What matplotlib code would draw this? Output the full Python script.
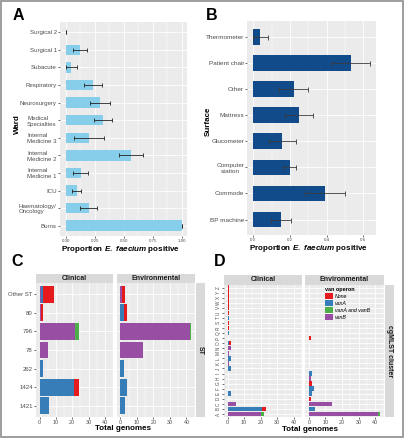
import matplotlib
matplotlib.use('Agg')
import matplotlib.pyplot as plt
import numpy as np
from matplotlib.patches import Rectangle, Patch
from matplotlib.ticker import MultipleLocator, NullLocator, FormatStrFormatter

plt.rcParams['font.family'] = ['Liberation Sans', 'DejaVu Sans']
plt.rcParams['mathtext.fontset'] = 'custom'
plt.rcParams['mathtext.it'] = 'Liberation Sans:italic:bold'
plt.rcParams['mathtext.rm'] = 'Liberation Sans:bold'

# ---------------- data ----------------
wards = ["Burns", "Haematology/\nOncology", "ICU", "Internal\nMedicine 1", "Internal\nMedicine 2",
         "Internal\nMedicine 3", "Medical\nSpecialties", "Neurosurgery", "Respiratory",
         "Subacute", "Surgical 1", "Surgical 2"]
ward_prop = [1.00, 0.20, 0.10, 0.13, 0.565, 0.20, 0.32, 0.30, 0.235, 0.047, 0.12, 0.0]
ward_lo = [1.00, 0.126, 0.057, 0.066, 0.46, 0.07, 0.245, 0.21, 0.16, 0.0, 0.06, 0.0]
ward_hi = [1.00, 0.267, 0.135, 0.195, 0.67, 0.33, 0.40, 0.385, 0.31, 0.095, 0.18, 0.0]

surfaces = ["BP machine", "Commode", "Computer\nstation", "Glucometer", "Mattress",
            "Other", "Patient chair", "Thermometer"]
surf_prop = [0.151, 0.39, 0.199, 0.158, 0.25, 0.22, 0.534, 0.038]
surf_lo = [0.097, 0.284, 0.164, 0.086, 0.175, 0.138, 0.432, 0.0]
surf_hi = [0.206, 0.499, 0.233, 0.231, 0.328, 0.30, 0.639, 0.078]

van_types = ["None", "vanA", "vanA and vanB", "vanB"]
van_colors = ["#E41A1C", "#377EB8", "#4DAF4A", "#984EA3"]

st_labels = ["1421", "1424", "262", "78", "796", "80", "Other ST"]
st_clin_none = [0, 3, 0, 0, 0, 1, 7]
st_clin_vanA = [6, 21, 2, 0, 0, 0, 1]
st_clin_vanAB = [0, 0, 0, 0, 2, 0, 0]
st_clin_vanB = [0, 0, 0, 5, 22, 1, 1]
st_env_none = [0, 0, 0, 0, 0, 2, 2]
st_env_vanA = [3, 4, 2, 0, 0, 2, 0]
st_env_vanAB = [0, 0, 0, 0, 1, 0, 0]
st_env_vanB = [0, 0, 0, 14, 42, 0, 1]

clusters = list("ABCDEFGHIJKLMNOPQRSTUVWXYZ")
cl_clin_none = [0, 2, 0, 0, 0, 0, 0, 0, 0, 0, 0, 0, 0, 0, 1, 0, 0, 1, 1, 0, 1, 1, 1, 1, 1, 1]
cl_clin_vanA = [0, 21, 0, 0, 2, 0, 0, 0, 0, 2, 0, 2, 0, 0, 1, 0, 1, 0, 0, 1, 0, 0, 0, 0, 0, 0]
cl_clin_vanAB = [2, 0, 0, 0, 0, 0, 0, 0, 0, 0, 0, 0, 0, 0, 0, 0, 0, 0, 0, 0, 0, 0, 0, 0, 0, 0]
cl_clin_vanB = [20, 0, 5, 0, 0, 0, 0, 0, 0, 0, 1, 0, 1, 2, 0, 0, 0, 0, 0, 0, 0, 0, 0, 0, 0, 0]
cl_env_none = [0, 0, 0, 1, 0, 0, 2, 0, 0, 0, 0, 0, 0, 0, 0, 1, 0, 0, 0, 0, 0, 0, 0, 0, 0, 0]
cl_env_vanA = [0, 4, 0, 0, 2, 3, 0, 0, 2, 0, 0, 0, 0, 0, 0, 0, 0, 0, 0, 0, 0, 0, 0, 0, 0, 0]
cl_env_vanAB = [1, 0, 0, 0, 0, 0, 0, 0, 0, 0, 0, 0, 0, 0, 0, 0, 0, 0, 0, 0, 0, 0, 0, 0, 0, 0]
cl_env_vanB = [42, 0, 14, 0, 0, 0, 0, 1, 0, 0, 0, 0, 0, 0, 0, 0, 0, 0, 0, 0, 0, 0, 0, 0, 0, 0]

# ---------------- layout helpers ----------------
W, H = 405, 440
fig = plt.figure(figsize=(W / 100, H / 100), dpi=100)


def box(l, t, r, b):
    return [l / W, 1 - b / H, (r - l) / W, (b - t) / H]


def ftext(x, y, s, **kw):
    fig.text(x / W, 1 - y / H, s, **kw)


def frect(l, t, r, b, **kw):
    fig.add_artist(Rectangle((l / W, 1 - b / H), (r - l) / W, (b - t) / H,
                             transform=fig.transFigure, **kw))


def style(ax, xmajor, xminor):
    ax.set_facecolor('#EBEBEB')
    for s in ax.spines.values():
        s.set_visible(False)
    ax.xaxis.set_major_locator(MultipleLocator(xmajor))
    ax.xaxis.set_minor_locator(MultipleLocator(xminor))
    ax.yaxis.set_minor_locator(NullLocator())
    ax.grid(which='major', color='white', lw=0.6)
    ax.grid(which='minor', axis='x', color='white', lw=0.3)
    ax.set_axisbelow(True)
    ax.tick_params(which='major', length=1.5, width=0.5, color='#333333',
                   labelcolor='#4D4D4D', pad=0.8)
    ax.tick_params(which='minor', length=0)


TITLE_KW = dict(fontsize=5.8, fontweight='bold', color='black', ha='center', va='center')
XLAB = r"Proportion $\mathit{E.\ faecium}$ positive"

# ---------------- Panel A ----------------
axA = fig.add_axes(box(59.9, 21.8, 187.5, 236.2))
style(axA, 0.25, 0.125)
yA = np.arange(len(wards))
pA = np.array(ward_prop)
axA.barh(yA, pA, height=0.6, color='#87CEEB', zorder=2)
axA.errorbar(pA, yA, xerr=[pA - np.array(ward_lo), np.array(ward_hi) - pA], fmt='none',
             ecolor='#222222', elinewidth=0.6, capsize=1.3, capthick=0.6, zorder=3)
axA.set_xlim(-0.05, 1.05)
axA.set_ylim(-0.6, len(wards) - 0.4)
axA.set_yticks(yA)
axA.set_yticklabels(wards, fontsize=4.4, multialignment='left')
axA.xaxis.set_major_formatter(FormatStrFormatter('%.2f'))
axA.tick_params(axis='x', labelsize=3.2, pad=0.5)
ftext(120.5, 249, XLAB, **TITLE_KW)
ftext(17.5, 124, "Ward", rotation=90, **TITLE_KW)
ftext(18.3, 15.2, "A", fontsize=11.5, fontweight='bold', ha='center', va='center')

# ---------------- Panel B ----------------
axB = fig.add_axes(box(247.4, 21.0, 376.3, 235.3))
style(axB, 0.2, 0.1)
yB = np.arange(len(surfaces))
pB = np.array(surf_prop)
axB.barh(yB, pB, height=0.6, color='#114B8A', zorder=2)
axB.errorbar(pB, yB, xerr=[pB - np.array(surf_lo), np.array(surf_hi) - pB], fmt='none',
             ecolor='#3A3A3A', elinewidth=0.6, capsize=1.8, capthick=0.6, zorder=3)
axB.set_xlim(-0.032, 0.671)
axB.set_ylim(-0.6, len(surfaces) - 0.4)
axB.set_yticks(yB)
axB.set_yticklabels(surfaces, fontsize=4.6, multialignment='center')
axB.xaxis.set_major_formatter(FormatStrFormatter('%.1f'))
axB.tick_params(axis='x', labelsize=3.2, pad=0.5)
ftext(308.8, 248.5, XLAB, **TITLE_KW)
ftext(208.3, 121.5, "Surface", rotation=90, **TITLE_KW)
ftext(212, 15.3, "B", fontsize=11.5, fontweight='bold', ha='center', va='center')


# ---------------- stacked helper ----------------
def stacked(ax, cats, series):
    y = np.arange(len(cats))
    left = np.zeros(len(cats))
    # stacking order left->right: vanB, vanA and vanB, vanA, None
    for idx in [3, 2, 1, 0]:
        vals = np.array(series[idx], dtype=float)
        ax.barh(y, vals, left=left, height=0.9, color=van_colors[idx], zorder=2)
        left += vals
    ax.set_xlim(-2.15, 45.15)
    ax.set_ylim(-0.6, len(cats) - 0.4)
    ax.set_yticks(y)


STRIP_KW = dict(fontsize=5, fontweight='bold', color='#1A1A1A', ha='center', va='center')

# ---------------- Panel C ----------------
cC = [(36, 113.3), (116.7, 195)]
tC, bC = 283, 417
axC1 = fig.add_axes(box(cC[0][0], tC, cC[0][1], bC))
axC2 = fig.add_axes(box(cC[1][0], tC, cC[1][1], bC))
for ax in (axC1, axC2):
    style(ax, 10, 5)
    ax.tick_params(axis='x', labelsize=3.9)
stacked(axC1, st_labels, [st_clin_none, st_clin_vanA, st_clin_vanAB, st_clin_vanB])
stacked(axC2, st_labels, [st_env_none, st_env_vanA, st_env_vanAB, st_env_vanB])
axC1.set_yticklabels(st_labels, fontsize=4.3)
axC2.set_yticklabels([])
axC2.tick_params(axis='y', length=0)
for (l, r), name in zip(cC, ["Clinical", "Environmental"]):
    frect(l, 274, r, tC, color='#D9D9D9', lw=0)
    ftext((l + r) / 2, 278.7, name, **STRIP_KW)
frect(195.8, tC, 204.8, bC, color='#D9D9D9', lw=0)
ftext(200.3, (tC + bC) / 2, "ST", rotation=-90, **STRIP_KW)
ftext(122.7, 428.8, "Total genomes", **TITLE_KW)
ftext(17.5, 262, "C", fontsize=11.5, fontweight='bold', ha='center', va='center')

# ---------------- Panel D ----------------
cD = [(224, 302.3), (305.3, 383.7)]
tD, bD = 284.5, 417
axD1 = fig.add_axes(box(cD[0][0], tD, cD[0][1], bD))
axD2 = fig.add_axes(box(cD[1][0], tD, cD[1][1], bD))
for ax in (axD1, axD2):
    style(ax, 10, 5)
    ax.tick_params(axis='x', labelsize=3.9)
stacked(axD1, clusters, [cl_clin_none, cl_clin_vanA, cl_clin_vanAB, cl_clin_vanB])
stacked(axD2, clusters, [cl_env_none, cl_env_vanA, cl_env_vanAB, cl_env_vanB])
axD1.set_yticklabels(clusters, fontsize=3.3, rotation=90, va='center')
axD1.tick_params(axis='y', length=1.5, pad=0.8)
axD2.set_yticklabels([])
axD2.tick_params(axis='y', length=0)
for (l, r), name in zip(cD, ["Clinical", "Environmental"]):
    frect(l, 275, r, tD, color='#D9D9D9', lw=0)
    ftext((l + r) / 2, 279.7, name, **STRIP_KW)
frect(385.3, tD, 393.8, bD, color='#D9D9D9', lw=0)
ftext(389.5, (tD + bD) / 2, "cgMLST cluster", rotation=-90, **STRIP_KW)
ftext(310.5, 429.3, "Total genomes", **TITLE_KW)
ftext(219.5, 261.5, "D", fontsize=11.5, fontweight='bold', ha='center', va='center')

handles = [Patch(facecolor=c, edgecolor='none') for c in van_colors]
leg = fig.legend(handles, van_types, loc='upper left',
                 bbox_to_anchor=(325 / W, 1 - 287 / H), frameon=False,
                 prop={'size': 3.8, 'style': 'italic'},
                 title='van operon', title_fontproperties={'size': 4, 'weight': 'bold'},
                 handlelength=1.5, handleheight=1.5, labelspacing=0.12,
                 handletextpad=0.4, borderpad=0, borderaxespad=0, alignment='left')

# outer frame
fig.add_artist(Rectangle((1 / W, 3 / H), 402 / W, 436 / H, fill=False,
                         edgecolor='#8C8C8C', lw=1.2, transform=fig.transFigure))

fig.savefig('out.png', dpi=100)
